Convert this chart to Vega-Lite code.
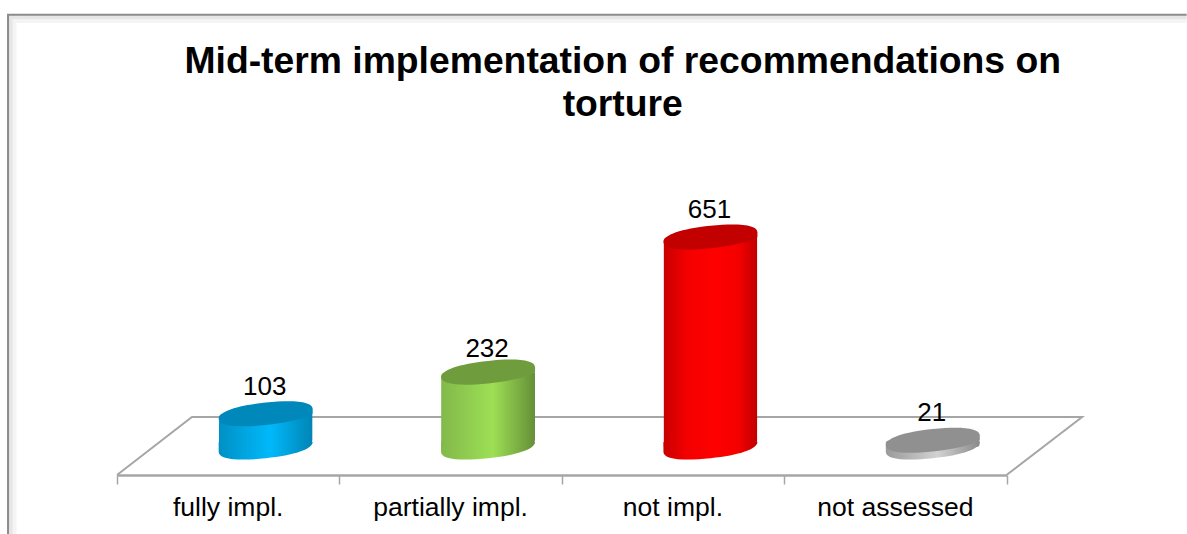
{"$schema":"https://vega.github.io/schema/vega-lite/v6.json","autosize":"none","width":889.5,"height":285,"padding":{"left":117,"top":190,"right":180,"bottom":59},"background":"white",
"config":{"view":{"stroke":null},"font":"Liberation Sans"},
"title":{"text":["Mid-term implementation of recommendations on","torture"],"font":"Liberation Sans","fontSize":37.3,"fontWeight":"bold","color":"black","anchor":"middle","dx":61,"dy":161,"offset":0,"lineHeight":43,"baseline":"bottom"},
"datasets":{"bars":[{"category":"fully impl.","count":103},{"category":"partially impl.","count":232},{"category":"not impl.","count":651},{"category":"not assessed","count":21}],
"outline":[
{"part":"shade1","i":0,"px":-0.472,"py":-270},{"part":"shade1","i":1,"px":-0.472,"py":1328},{"part":"shade1","i":2,"px":4.81,"py":1328},
{"part":"shade2","i":0,"px":-0.481,"py":-270},{"part":"shade2","i":1,"px":-0.481,"py":1334},{"part":"shade2","i":2,"px":4.81,"py":1334},
{"part":"frame","i":0,"px":-0.49,"py":-270},{"part":"frame","i":1,"px":-0.49,"py":1340},{"part":"frame","i":2,"px":4.81,"py":1340},
{"part":"floor","i":0,"px":0,"py":-86.8},{"part":"floor","i":1,"px":0.337,"py":93},{"part":"floor","i":2,"px":4.34,"py":93},{"part":"floor","i":3,"px":4,"py":-86.8}]},
"resolve":{"scale":{"x":"independent"},"axis":{"x":"independent"}},
"layer":[
{"data":{"name":"outline"},"transform":[{"filter":"datum.part=='shade1'"}],"mark":{"type":"line","stroke":"#f4f4f4","strokeWidth":9},"encoding":{"x":{"field":"px","type":"quantitative","scale":{"domain":[0,4]},"axis":{"orient":"bottom","values":[0,1,2,3,4],"labels":false,"title":null,"grid":false,"domainColor":"#a6a6a6","domainWidth":2.5,"tickColor":"#a6a6a6","tickWidth":1.5,"tickSize":9}},"y":{"field":"py","type":"quantitative","scale":{"domain":[-86.8,796.7]},"axis":null},"order":{"field":"i"}}},
{"data":{"name":"outline"},"transform":[{"filter":"datum.part=='shade2'"}],"mark":{"type":"line","stroke":"#e6e6e6","strokeWidth":5},"encoding":{"x":{"field":"px","type":"quantitative","scale":{"domain":[0,4]},"axis":null},"y":{"field":"py","type":"quantitative","scale":{"domain":[-86.8,796.7]},"axis":null},"order":{"field":"i"}}},
{"data":{"name":"outline"},"transform":[{"filter":"datum.part=='frame'"}],"mark":{"type":"line","stroke":"#8c8c8c","strokeWidth":2},"encoding":{"x":{"field":"px","type":"quantitative","scale":{"domain":[0,4]},"axis":null},"y":{"field":"py","type":"quantitative","scale":{"domain":[-86.8,796.7]},"axis":null},"order":{"field":"i"}}},
{"data":{"name":"outline"},"transform":[{"filter":"datum.part=='floor'"}],"mark":{"type":"line","stroke":"#a6a6a6","strokeWidth":2},"encoding":{"x":{"field":"px","type":"quantitative","scale":{"domain":[0,4]},"axis":null},"y":{"field":"py","type":"quantitative","scale":{"domain":[-86.8,796.7]},"axis":null},"order":{"field":"i"}}},
{"data":{"name":"bars"},
"encoding":{"x":{"field":"category","type":"nominal","sort":null,"scale":{"domain":["fully impl.","partially impl.","not impl.","not assessed"],"paddingInner":0,"paddingOuter":0},"axis":{"orient":"bottom","title":null,"domain":false,"ticks":false,"labelAngle":0,"labelFontSize":26.5,"labelFont":"Liberation Sans","labelColor":"black","labelPadding":40,"labelBaseline":"alphabetic"}},"y":{"field":"count","type":"quantitative","scale":{"domain":[-86.8,796.7]},"axis":null}},
"layer":[
{"transform":[{"filter":"datum.category=='fully impl.'"}],"mark":{"type":"point","filled":true,"opacity":1,"size":8836,"xOffset":37.5,"shape":"M-1,-0.105L-1,0.105C-1,0.255,-0.62,0.305,0,0.24C0.62,0.175,1,0.045,1,-0.105Z","fill":{"gradient":"linear","x1":0,"x2":1,"y1":0,"y2":0,"stops":[{"offset":0,"color":"#0090c4"},{"offset":0.55,"color":"#00b9fb"},{"offset":1,"color":"#0084b4"}]}},"encoding":{"y":{"datum":0,"type":"quantitative"}}},
{"transform":[{"filter":"datum.category=='fully impl.'"}],"mark":{"type":"bar","size":94,"xOffset":37.5,"cornerRadiusTopLeft":5,"cornerRadiusBottomRight":8,"fill":{"gradient":"linear","x1":0,"x2":1,"y1":0,"y2":0,"stops":[{"offset":0,"color":"#0090c4"},{"offset":0.55,"color":"#00b9fb"},{"offset":1,"color":"#0084b4"}]}}},
{"transform":[{"filter":"datum.category=='fully impl.'"}],"mark":{"type":"point","filled":true,"opacity":1,"size":8836,"xOffset":37.5,"shape":"M-1,0.105C-1,-0.045,-0.62,-0.175,0,-0.24C0.62,-0.305,1,-0.255,1,-0.105L1,0C0.85,0.1,0.5,0.18,0,0.24C-0.62,0.305,-1,0.255,-1,0.105Z","fill":"#0088ba"}},
{"transform":[{"filter":"datum.category=='partially impl.'"}],"mark":{"type":"point","filled":true,"opacity":1,"size":8836,"xOffset":37.5,"shape":"M-1,-0.105L-1,0.105C-1,0.255,-0.62,0.305,0,0.24C0.62,0.175,1,0.045,1,-0.105Z","fill":{"gradient":"linear","x1":0,"x2":1,"y1":0,"y2":0,"stops":[{"offset":0,"color":"#82b94a"},{"offset":0.55,"color":"#9ddf55"},{"offset":1,"color":"#658f38"}]}},"encoding":{"y":{"datum":0,"type":"quantitative"}}},
{"transform":[{"filter":"datum.category=='partially impl.'"}],"mark":{"type":"bar","size":94,"xOffset":37.5,"cornerRadiusTopLeft":5,"cornerRadiusBottomRight":8,"fill":{"gradient":"linear","x1":0,"x2":1,"y1":0,"y2":0,"stops":[{"offset":0,"color":"#82b94a"},{"offset":0.55,"color":"#9ddf55"},{"offset":1,"color":"#658f38"}]}}},
{"transform":[{"filter":"datum.category=='partially impl.'"}],"mark":{"type":"point","filled":true,"opacity":1,"size":8836,"xOffset":37.5,"shape":"M-1,0.105C-1,-0.045,-0.62,-0.175,0,-0.24C0.62,-0.305,1,-0.255,1,-0.105L1,0C0.85,0.1,0.5,0.18,0,0.24C-0.62,0.305,-1,0.255,-1,0.105Z","fill":"#6f9d3e"}},
{"transform":[{"filter":"datum.category=='not impl.'"}],"mark":{"type":"point","filled":true,"opacity":1,"size":8836,"xOffset":37.5,"shape":"M-1,-0.105L-1,0.105C-1,0.255,-0.62,0.305,0,0.24C0.62,0.175,1,0.045,1,-0.105Z","fill":{"gradient":"linear","x1":0,"x2":1,"y1":0,"y2":0,"stops":[{"offset":0,"color":"#c80000"},{"offset":0.25,"color":"#f40000"},{"offset":0.55,"color":"#ff0000"},{"offset":0.8,"color":"#f40000"},{"offset":1,"color":"#c00000"}]}},"encoding":{"y":{"datum":0,"type":"quantitative"}}},
{"transform":[{"filter":"datum.category=='not impl.'"}],"mark":{"type":"bar","size":94,"xOffset":37.5,"cornerRadiusTopLeft":5,"cornerRadiusBottomRight":8,"fill":{"gradient":"linear","x1":0,"x2":1,"y1":0,"y2":0,"stops":[{"offset":0,"color":"#c80000"},{"offset":0.25,"color":"#f40000"},{"offset":0.55,"color":"#ff0000"},{"offset":0.8,"color":"#f40000"},{"offset":1,"color":"#c00000"}]}}},
{"transform":[{"filter":"datum.category=='not impl.'"}],"mark":{"type":"point","filled":true,"opacity":1,"size":8836,"xOffset":37.5,"shape":"M-1,0.105C-1,-0.045,-0.62,-0.175,0,-0.24C0.62,-0.305,1,-0.255,1,-0.105L1,0C0.85,0.1,0.5,0.18,0,0.24C-0.62,0.305,-1,0.255,-1,0.105Z","fill":"#c20000"}},
{"transform":[{"filter":"datum.category=='not assessed'"}],"mark":{"type":"point","filled":true,"opacity":1,"size":8836,"xOffset":37.5,"shape":"M-1,-0.105L-1,0.105C-1,0.255,-0.62,0.305,0,0.24C0.62,0.175,1,0.045,1,-0.105Z","fill":{"gradient":"linear","x1":0,"x2":1,"y1":0,"y2":0,"stops":[{"offset":0,"color":"#9a9a9a"},{"offset":0.55,"color":"#d2d2d2"},{"offset":1,"color":"#8a8a8a"}]}},"encoding":{"y":{"datum":0,"type":"quantitative"}}},
{"transform":[{"filter":"datum.category=='not assessed'"}],"mark":{"type":"bar","size":94,"xOffset":37.5,"cornerRadiusTopLeft":3,"cornerRadiusBottomRight":3,"fill":{"gradient":"linear","x1":0,"x2":1,"y1":0,"y2":0,"stops":[{"offset":0,"color":"#9a9a9a"},{"offset":0.55,"color":"#d2d2d2"},{"offset":1,"color":"#8a8a8a"}]}}},
{"transform":[{"filter":"datum.category=='not assessed'"}],"mark":{"type":"point","filled":true,"opacity":1,"size":8836,"xOffset":37.5,"shape":"M-1,0.105C-1,-0.045,-0.62,-0.175,0,-0.24C0.62,-0.305,1,-0.255,1,-0.105L1,0C0.85,0.1,0.5,0.18,0,0.24C-0.62,0.305,-1,0.255,-1,0.105Z","fill":"#909090"}},
{"transform":[{"filter":"datum.category=='fully impl.' || datum.category=='not impl.'"}],"mark":{"type":"text","font":"Liberation Sans","fontSize":26,"color":"black","xOffset":36.5,"dy":-19,"baseline":"alphabetic","align":"center"},"encoding":{"text":{"field":"count","type":"quantitative"}}},
{"transform":[{"filter":"datum.category=='partially impl.'"}],"mark":{"type":"text","font":"Liberation Sans","fontSize":26,"color":"black","xOffset":36.5,"dy":-15,"baseline":"alphabetic","align":"center"},"encoding":{"text":{"field":"count","type":"quantitative"}}},
{"transform":[{"filter":"datum.category=='not assessed'"}],"mark":{"type":"text","font":"Liberation Sans","fontSize":26,"color":"black","xOffset":36.5,"dy":-19,"baseline":"alphabetic","align":"center"},"encoding":{"text":{"field":"count","type":"quantitative"}}}
]}
]}
